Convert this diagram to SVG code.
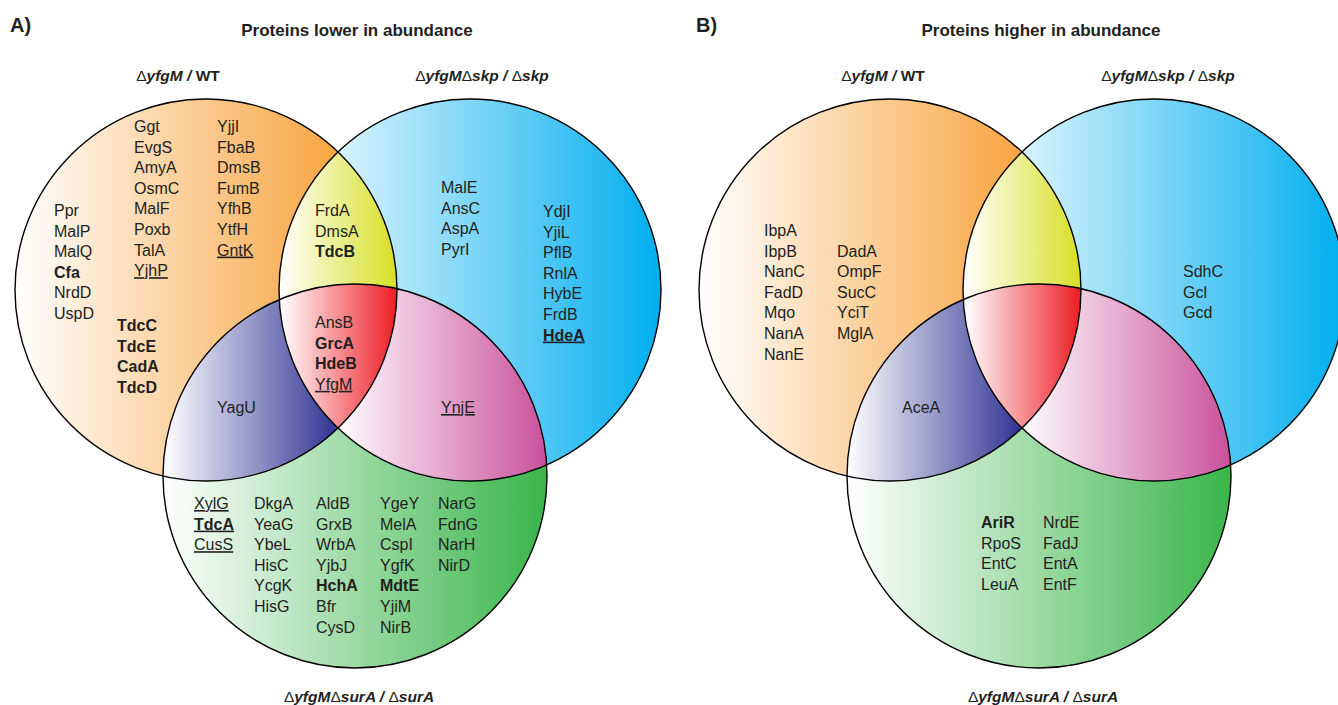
<svg xmlns="http://www.w3.org/2000/svg" xmlns:xlink="http://www.w3.org/1999/xlink" width="1338" height="705" viewBox="0 0 1338 705">
<style>
text { font-family: "Liberation Sans", Arial, sans-serif; fill: #231F20; }
.t { font-size: 16px; }
.b { font-weight: bold; }
.u { text-decoration: underline; }
.lab { font-size: 15.5px; font-weight: bold; text-anchor: middle; }
.lab .d { font-weight: normal; font-style: normal; }
.lab .i { font-style: italic; }
.title { font-size: 17px; font-weight: bold; text-anchor: middle; }
.panel { font-size: 20px; font-weight: bold; }
.outline { fill: none; stroke: #000; stroke-width: 1.4; }
</style>
<defs>
  <circle id="cO" cx="206" cy="290" r="191"/>
  <circle id="cB" cx="470" cy="290" r="191"/>
  <circle id="cG" cx="355" cy="476" r="192"/>
  <clipPath id="clipO"><use xlink:href="#cO"/></clipPath>
  <clipPath id="clipB"><use xlink:href="#cB"/></clipPath>
  <clipPath id="clipG"><use xlink:href="#cG"/></clipPath>
  <linearGradient id="gOr" gradientUnits="userSpaceOnUse" x1="15" y1="0" x2="397" y2="0"><stop offset="0" stop-color="#FFFFFF"/><stop offset="1" stop-color="#F7941D"/></linearGradient>
  <linearGradient id="gBl" gradientUnits="userSpaceOnUse" x1="279" y1="0" x2="661" y2="0"><stop offset="0" stop-color="#FFFFFF"/><stop offset="1" stop-color="#00AEEF"/></linearGradient>
  <linearGradient id="gGr" gradientUnits="userSpaceOnUse" x1="163" y1="0" x2="547" y2="0"><stop offset="0" stop-color="#FFFFFF"/><stop offset="1" stop-color="#39B54A"/></linearGradient>
  <linearGradient id="gYe" gradientUnits="userSpaceOnUse" x1="279" y1="0" x2="397" y2="0"><stop offset="0" stop-color="#FFFFFF"/><stop offset="1" stop-color="#D7DF23"/></linearGradient>
  <linearGradient id="gPu" gradientUnits="userSpaceOnUse" x1="163" y1="0" x2="340" y2="0"><stop offset="0" stop-color="#FFFFFF"/><stop offset="1" stop-color="#2E3192"/></linearGradient>
  <linearGradient id="gPk" gradientUnits="userSpaceOnUse" x1="335" y1="0" x2="547" y2="0"><stop offset="0" stop-color="#FFFFFF"/><stop offset="1" stop-color="#C9509B"/></linearGradient>
  <linearGradient id="gRe" gradientUnits="userSpaceOnUse" x1="281" y1="0" x2="397" y2="0"><stop offset="0" stop-color="#FFFFFF"/><stop offset="1" stop-color="#ED1C24"/></linearGradient>
  <g id="venn">
    <use xlink:href="#cO" fill="url(#gOr)"/>
    <use xlink:href="#cB" fill="url(#gBl)"/>
    <use xlink:href="#cG" fill="url(#gGr)"/>
    <g clip-path="url(#clipO)"><rect x="0" y="0" width="700" height="705" fill="url(#gYe)" clip-path="url(#clipB)"/></g>
    <g clip-path="url(#clipO)"><rect x="0" y="0" width="700" height="705" fill="url(#gPu)" clip-path="url(#clipG)"/></g>
    <g clip-path="url(#clipB)"><rect x="0" y="0" width="700" height="705" fill="url(#gPk)" clip-path="url(#clipG)"/></g>
    <g clip-path="url(#clipO)"><g clip-path="url(#clipB)"><rect x="0" y="0" width="700" height="705" fill="url(#gRe)" clip-path="url(#clipG)"/></g></g>
    <use xlink:href="#cO" class="outline"/>
    <use xlink:href="#cB" class="outline"/>
    <use xlink:href="#cG" class="outline"/>
  </g>
</defs>

<!-- Panel A shapes -->
<g id="venn-A"><use xlink:href="#venn"/></g>
<!-- Panel B shapes (same geometry, shifted) -->
<g id="venn-B" transform="translate(684,0)"><use xlink:href="#venn"/></g>

<!-- Panel A headings -->
<g id="headings-A">
  <text class="panel" x="10" y="32">A)</text>
  <text class="title" x="357" y="36">Proteins lower in abundance</text>
  <text class="lab" x="178" y="81"><tspan class="d">Δ</tspan><tspan class="i">yfgM / </tspan>WT</text>
  <text class="lab" x="482" y="81"><tspan class="d">Δ</tspan><tspan class="i">yfgM</tspan><tspan class="d">Δ</tspan><tspan class="i">skp / </tspan><tspan class="d">Δ</tspan><tspan class="i">skp</tspan></text>
  <text class="lab" x="359" y="702"><tspan class="d">Δ</tspan><tspan class="i">yfgM</tspan><tspan class="d">Δ</tspan><tspan class="i">surA / </tspan><tspan class="d">Δ</tspan><tspan class="i">surA</tspan></text>
</g>

<!-- Panel A: orange only -->
<g id="A-orange">
  <text class="t" x="54" y="216">Ppr</text>
  <text class="t" x="54" y="236.6">MalP</text>
  <text class="t" x="54" y="257.2">MalQ</text>
  <text class="t b" x="54" y="277.8">Cfa</text>
  <text class="t" x="54" y="298.4">NrdD</text>
  <text class="t" x="54" y="319">UspD</text>
  <text class="t" x="134" y="132">Ggt</text>
  <text class="t" x="134" y="152.6">EvgS</text>
  <text class="t" x="134" y="173.2">AmyA</text>
  <text class="t" x="134" y="193.8">OsmC</text>
  <text class="t" x="134" y="214.4">MalF</text>
  <text class="t" x="134" y="235">Poxb</text>
  <text class="t" x="134" y="255.6">TalA</text>
  <text class="t u" x="134" y="276.2">YjhP</text>
  <text class="t" x="217" y="132">YjjI</text>
  <text class="t" x="217" y="152.6">FbaB</text>
  <text class="t" x="217" y="173.2">DmsB</text>
  <text class="t" x="217" y="193.8">FumB</text>
  <text class="t" x="217" y="214.4">YfhB</text>
  <text class="t" x="217" y="235">YtfH</text>
  <text class="t u" x="217" y="255.6">GntK</text>
  <text class="t b" x="117" y="331">TdcC</text>
  <text class="t b" x="117" y="351.6">TdcE</text>
  <text class="t b" x="117" y="372.2">CadA</text>
  <text class="t b" x="117" y="392.8">TdcD</text>
</g>
<g id="A-yellow">
  <text class="t" x="315" y="216">FrdA</text>
  <text class="t" x="315" y="236.6">DmsA</text>
  <text class="t b" x="315" y="257.2">TdcB</text>
</g>
<g id="A-red">
  <text class="t" x="315" y="328">AnsB</text>
  <text class="t b" x="315" y="348.6">GrcA</text>
  <text class="t b" x="315" y="369.2">HdeB</text>
  <text class="t u" x="315" y="389.8">YfgM</text>
</g>
<g id="A-blue">
  <text class="t" x="441" y="193">MalE</text>
  <text class="t" x="441" y="213.6">AnsC</text>
  <text class="t" x="441" y="234.2">AspA</text>
  <text class="t" x="441" y="254.8">PyrI</text>
  <text class="t" x="543" y="217">YdjI</text>
  <text class="t" x="543" y="237.6">YjiL</text>
  <text class="t" x="543" y="258.2">PflB</text>
  <text class="t" x="543" y="278.8">RnlA</text>
  <text class="t" x="543" y="299.4">HybE</text>
  <text class="t" x="543" y="320">FrdB</text>
  <text class="t b u" x="543" y="340.6">HdeA</text>
</g>
<g id="A-purple"><text class="t" x="217" y="413">YagU</text></g>
<g id="A-pink"><text class="t u" x="441" y="413">YnjE</text></g>
<g id="A-green">
  <text class="t u" x="194" y="509">XylG</text>
  <text class="t b u" x="194" y="529.6">TdcA</text>
  <text class="t u" x="194" y="550.2">CusS</text>
  <text class="t" x="254" y="509">DkgA</text>
  <text class="t" x="254" y="529.6">YeaG</text>
  <text class="t" x="254" y="550.2">YbeL</text>
  <text class="t" x="254" y="570.8">HisC</text>
  <text class="t" x="254" y="591.4">YcgK</text>
  <text class="t" x="254" y="612">HisG</text>
  <text class="t" x="316" y="509">AldB</text>
  <text class="t" x="316" y="529.6">GrxB</text>
  <text class="t" x="316" y="550.2">WrbA</text>
  <text class="t" x="316" y="570.8">YjbJ</text>
  <text class="t b" x="316" y="591.4">HchA</text>
  <text class="t" x="316" y="612">Bfr</text>
  <text class="t" x="316" y="632.6">CysD</text>
  <text class="t" x="380" y="509">YgeY</text>
  <text class="t" x="380" y="529.6">MelA</text>
  <text class="t" x="380" y="550.2">CspI</text>
  <text class="t" x="380" y="570.8">YgfK</text>
  <text class="t b" x="380" y="591.4">MdtE</text>
  <text class="t" x="380" y="612">YjiM</text>
  <text class="t" x="380" y="632.6">NirB</text>
  <text class="t" x="438" y="509">NarG</text>
  <text class="t" x="438" y="529.6">FdnG</text>
  <text class="t" x="438" y="550.2">NarH</text>
  <text class="t" x="438" y="570.8">NirD</text>
</g>

<!-- Panel B headings -->
<g id="headings-B">
  <text class="panel" x="696" y="32">B)</text>
  <text class="title" x="1041" y="36">Proteins higher in abundance</text>
  <text class="lab" x="883" y="81"><tspan class="d">Δ</tspan><tspan class="i">yfgM / </tspan>WT</text>
  <text class="lab" x="1168" y="81"><tspan class="d">Δ</tspan><tspan class="i">yfgM</tspan><tspan class="d">Δ</tspan><tspan class="i">skp / </tspan><tspan class="d">Δ</tspan><tspan class="i">skp</tspan></text>
  <text class="lab" x="1043" y="702"><tspan class="d">Δ</tspan><tspan class="i">yfgM</tspan><tspan class="d">Δ</tspan><tspan class="i">surA / </tspan><tspan class="d">Δ</tspan><tspan class="i">surA</tspan></text>
</g>
<g id="B-orange">
  <text class="t" x="764" y="236">IbpA</text>
  <text class="t" x="764" y="256.6">IbpB</text>
  <text class="t" x="764" y="277.2">NanC</text>
  <text class="t" x="764" y="297.8">FadD</text>
  <text class="t" x="764" y="318.4">Mqo</text>
  <text class="t" x="764" y="339">NanA</text>
  <text class="t" x="764" y="359.6">NanE</text>
  <text class="t" x="837" y="256.6">DadA</text>
  <text class="t" x="837" y="277.2">OmpF</text>
  <text class="t" x="837" y="297.8">SucC</text>
  <text class="t" x="837" y="318.4">YciT</text>
  <text class="t" x="837" y="339">MglA</text>
</g>
<g id="B-purple"><text class="t" x="902" y="413">AceA</text></g>
<g id="B-blue">
  <text class="t" x="1183" y="277">SdhC</text>
  <text class="t" x="1183" y="297.6">Gcl</text>
  <text class="t" x="1183" y="318.2">Gcd</text>
</g>
<g id="B-green">
  <text class="t b" x="981" y="528">AriR</text>
  <text class="t" x="981" y="548.6">RpoS</text>
  <text class="t" x="981" y="569.2">EntC</text>
  <text class="t" x="981" y="589.8">LeuA</text>
  <text class="t" x="1043" y="528">NrdE</text>
  <text class="t" x="1043" y="548.6">FadJ</text>
  <text class="t" x="1043" y="569.2">EntA</text>
  <text class="t" x="1043" y="589.8">EntF</text>
</g>
<g id="connectors"></g>
</svg>
